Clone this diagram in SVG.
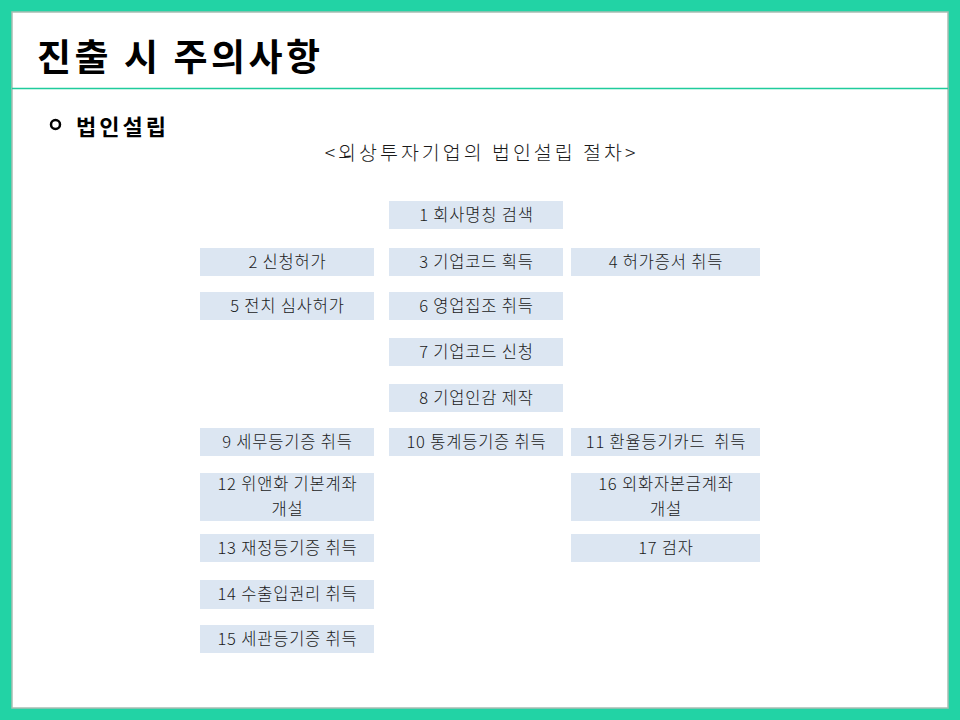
<svg xmlns="http://www.w3.org/2000/svg" width="960" height="720" viewBox="0 0 960 720">
<style>
.box{fill:#DCE6F2;}
.lbl{font-family:"Noto Sans CJK KR","Noto Sans",sans-serif;font-size:16.5px;font-weight:300;fill:#1a1a1a;text-anchor:middle;white-space:pre;letter-spacing:0.8px;}
.title{font-family:"Noto Sans CJK KR",sans-serif;font-size:37px;font-weight:bold;fill:#000;letter-spacing:3.5px;}
.sub{font-family:"Noto Sans CJK KR",sans-serif;font-size:22px;font-weight:bold;fill:#000;letter-spacing:3px;}
.cap{font-family:"Noto Sans CJK KR",sans-serif;font-size:19.5px;font-weight:300;fill:#1a1a1a;text-anchor:middle;letter-spacing:3px;}
</style>
<rect x="0" y="0" width="960" height="720" fill="#22D3A5"/>
<rect x="12" y="12" width="936" height="696" fill="#FFFFFF" stroke="#A9BDB3" stroke-width="1.5"/>
<line x1="12" y1="88.5" x2="948" y2="88.5" stroke="#1FCC9C" stroke-width="1.5"/>
<text class="title" x="37" y="71">진출 시 주의사항</text>
<circle cx="55.5" cy="124.5" r="4.5" fill="none" stroke="#000" stroke-width="2.5"/>
<text class="sub" x="76" y="135">법인설립</text>
<text class="cap" x="481.5" y="160">&lt;외상투자기업의 법인설립 절차&gt;</text>

<g id="n1"><rect class="box" x="389" y="201" width="174" height="28"/><text class="lbl" x="476.5" y="221">1 회사명칭 검색</text></g>
<g id="n2"><rect class="box" x="200" y="248" width="174" height="28"/><text class="lbl" x="287.5" y="268">2 신청허가</text></g>
<g id="n3"><rect class="box" x="389" y="248" width="174" height="28"/><text class="lbl" x="476.5" y="268">3 기업코드 획득</text></g>
<g id="n4"><rect class="box" x="571" y="248" width="189" height="28"/><text class="lbl" x="666" y="268">4 허가증서 취득</text></g>
<g id="n5"><rect class="box" x="200" y="292" width="174" height="28"/><text class="lbl" x="287.5" y="312">5 전치 심사허가</text></g>
<g id="n6"><rect class="box" x="389" y="292" width="174" height="28"/><text class="lbl" x="476.5" y="312">6 영업집조 취득</text></g>
<g id="n7"><rect class="box" x="389" y="338" width="174" height="28"/><text class="lbl" x="476.5" y="358">7 기업코드 신청</text></g>
<g id="n8"><rect class="box" x="389" y="384" width="174" height="28"/><text class="lbl" x="476.5" y="404">8 기업인감 제작</text></g>
<g id="n9"><rect class="box" x="200" y="428" width="174" height="28"/><text class="lbl" x="287.5" y="448">9 세무등기증 취득</text></g>
<g id="n10"><rect class="box" x="389" y="428" width="174" height="28"/><text class="lbl" x="476.5" y="448">10 통계등기증 취득</text></g>
<g id="n11"><rect class="box" x="571" y="428" width="189" height="28"/><text class="lbl" x="666" y="448">11 환율등기카드  취득</text></g>
<g id="n12"><rect class="box" x="200" y="473" width="174" height="48"/><text class="lbl"><tspan x="287.5" y="490">12 위앤화 기본계좌</tspan><tspan x="287.5" y="514.5">개설</tspan></text></g>
<g id="n16"><rect class="box" x="571" y="473" width="189" height="48"/><text class="lbl"><tspan x="666" y="490">16 외화자본금계좌</tspan><tspan x="666" y="514.5">개설</tspan></text></g>
<g id="n13"><rect class="box" x="200" y="534" width="174" height="28"/><text class="lbl" x="287.5" y="554">13 재정등기증 취득</text></g>
<g id="n17"><rect class="box" x="571" y="534" width="189" height="28"/><text class="lbl" x="666" y="554">17 검자</text></g>
<g id="n14"><rect class="box" x="200" y="580" width="174" height="29"/><text class="lbl" x="287.5" y="600">14 수출입권리 취득</text></g>
<g id="n15"><rect class="box" x="200" y="625" width="174" height="28"/><text class="lbl" x="287.5" y="645">15 세관등기증 취득</text></g>
</svg>
